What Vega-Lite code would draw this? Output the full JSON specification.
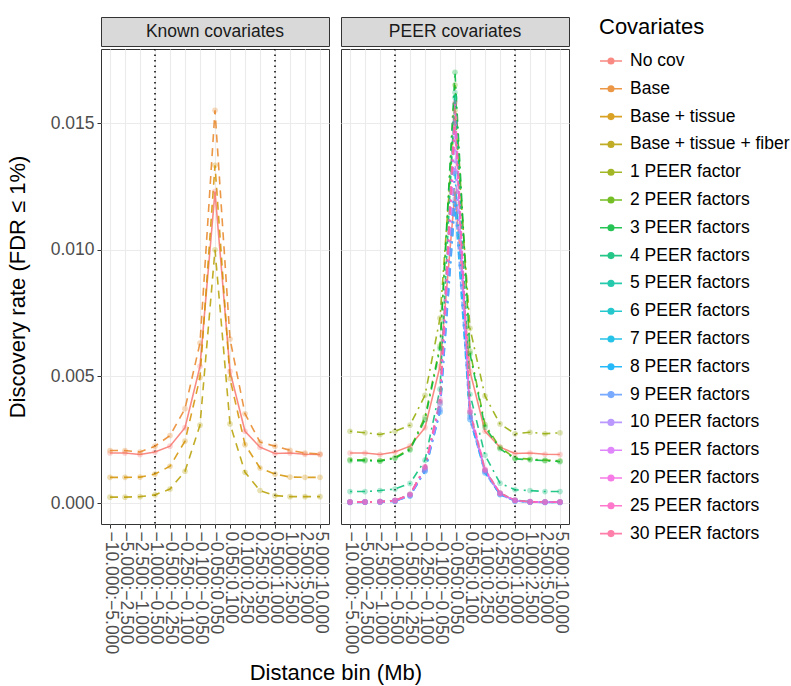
{
  "$schema": "https://vega.github.io/schema/vega-lite/v6.json",
  "padding": {"left": 5, "top": 16, "right": 0, "bottom": 2},
  "title": {"text": "Distance bin (Mb)", "orient": "bottom", "anchor": "middle", "fontSize": 22, "fontWeight": "normal", "color": "#000000", "offset": 9, "dx": -62},
  "datasets": {
    "rates": [
      {"cov":"No cov","bin":"-10.000:-5.000","rate":0.00198},{"cov":"No cov","bin":"-5.000:-2.500","rate":0.00198},{"cov":"No cov","bin":"-2.500:-1.000","rate":0.00192},{"cov":"No cov","bin":"-1.000:-0.500","rate":0.00202},{"cov":"No cov","bin":"-0.500:-0.250","rate":0.00225},{"cov":"No cov","bin":"-0.250:-0.100","rate":0.00298},{"cov":"No cov","bin":"-0.100:-0.050","rate":0.0054},{"cov":"No cov","bin":"-0.050:0.050","rate":0.0123},{"cov":"No cov","bin":"0.050:0.100","rate":0.0052},{"cov":"No cov","bin":"0.100:0.250","rate":0.00284},{"cov":"No cov","bin":"0.250:0.500","rate":0.00221},{"cov":"No cov","bin":"0.500:1.000","rate":0.00196},{"cov":"No cov","bin":"1.000:2.500","rate":0.00198},{"cov":"No cov","bin":"2.500:5.000","rate":0.00193},{"cov":"No cov","bin":"5.000:10.000","rate":0.00192},
      {"cov":"Base","bin":"-10.000:-5.000","rate":0.00208},{"cov":"Base","bin":"-5.000:-2.500","rate":0.00208},{"cov":"Base","bin":"-2.500:-1.000","rate":0.00202},{"cov":"Base","bin":"-1.000:-0.500","rate":0.00225},{"cov":"Base","bin":"-0.500:-0.250","rate":0.00267},{"cov":"Base","bin":"-0.250:-0.100","rate":0.00373},{"cov":"Base","bin":"-0.100:-0.050","rate":0.00632},{"cov":"Base","bin":"-0.050:0.050","rate":0.0155},{"cov":"Base","bin":"0.050:0.100","rate":0.00648},{"cov":"Base","bin":"0.100:0.250","rate":0.00353},{"cov":"Base","bin":"0.250:0.500","rate":0.00241},{"cov":"Base","bin":"0.500:1.000","rate":0.00225},{"cov":"Base","bin":"1.000:2.500","rate":0.00209},{"cov":"Base","bin":"2.500:5.000","rate":0.00198},{"cov":"Base","bin":"5.000:10.000","rate":0.00194},
      {"cov":"Base + tissue","bin":"-10.000:-5.000","rate":0.00102},{"cov":"Base + tissue","bin":"-5.000:-2.500","rate":0.00102},{"cov":"Base + tissue","bin":"-2.500:-1.000","rate":0.00103},{"cov":"Base + tissue","bin":"-1.000:-0.500","rate":0.00115},{"cov":"Base + tissue","bin":"-0.500:-0.250","rate":0.00146},{"cov":"Base + tissue","bin":"-0.250:-0.100","rate":0.00245},{"cov":"Base + tissue","bin":"-0.100:-0.050","rate":0.00496},{"cov":"Base + tissue","bin":"-0.050:0.050","rate":0.01333},{"cov":"Base + tissue","bin":"0.050:0.100","rate":0.00492},{"cov":"Base + tissue","bin":"0.100:0.250","rate":0.00231},{"cov":"Base + tissue","bin":"0.250:0.500","rate":0.00139},{"cov":"Base + tissue","bin":"0.500:1.000","rate":0.00115},{"cov":"Base + tissue","bin":"1.000:2.500","rate":0.00103},{"cov":"Base + tissue","bin":"2.500:5.000","rate":0.00102},{"cov":"Base + tissue","bin":"5.000:10.000","rate":0.00102},
      {"cov":"Base + tissue + fiber","bin":"-10.000:-5.000","rate":0.00024},{"cov":"Base + tissue + fiber","bin":"-5.000:-2.500","rate":0.00024},{"cov":"Base + tissue + fiber","bin":"-2.500:-1.000","rate":0.00026},{"cov":"Base + tissue + fiber","bin":"-1.000:-0.500","rate":0.00033},{"cov":"Base + tissue + fiber","bin":"-0.500:-0.250","rate":0.00056},{"cov":"Base + tissue + fiber","bin":"-0.250:-0.100","rate":0.00126},{"cov":"Base + tissue + fiber","bin":"-0.100:-0.050","rate":0.00308},{"cov":"Base + tissue + fiber","bin":"-0.050:0.050","rate":0.0100},{"cov":"Base + tissue + fiber","bin":"0.050:0.100","rate":0.00313},{"cov":"Base + tissue + fiber","bin":"0.100:0.250","rate":0.00122},{"cov":"Base + tissue + fiber","bin":"0.250:0.500","rate":0.0005},{"cov":"Base + tissue + fiber","bin":"0.500:1.000","rate":0.0003},{"cov":"Base + tissue + fiber","bin":"1.000:2.500","rate":0.00026},{"cov":"Base + tissue + fiber","bin":"2.500:5.000","rate":0.00026},{"cov":"Base + tissue + fiber","bin":"5.000:10.000","rate":0.00026},
      {"cov":"1 PEER factor","bin":"-10.000:-5.000","rate":0.00284},{"cov":"1 PEER factor","bin":"-5.000:-2.500","rate":0.00278},{"cov":"1 PEER factor","bin":"-2.500:-1.000","rate":0.00271},{"cov":"1 PEER factor","bin":"-1.000:-0.500","rate":0.00284},{"cov":"1 PEER factor","bin":"-0.500:-0.250","rate":0.00308},{"cov":"1 PEER factor","bin":"-0.250:-0.100","rate":0.00426},{"cov":"1 PEER factor","bin":"-0.100:-0.050","rate":0.0073},{"cov":"1 PEER factor","bin":"-0.050:0.050","rate":0.0155},{"cov":"1 PEER factor","bin":"0.050:0.100","rate":0.0069},{"cov":"1 PEER factor","bin":"0.100:0.250","rate":0.00423},{"cov":"1 PEER factor","bin":"0.250:0.500","rate":0.00313},{"cov":"1 PEER factor","bin":"0.500:1.000","rate":0.00274},{"cov":"1 PEER factor","bin":"1.000:2.500","rate":0.0028},{"cov":"1 PEER factor","bin":"2.500:5.000","rate":0.00274},{"cov":"1 PEER factor","bin":"5.000:10.000","rate":0.00278},
      {"cov":"2 PEER factors","bin":"-10.000:-5.000","rate":0.00172},{"cov":"2 PEER factors","bin":"-5.000:-2.500","rate":0.00171},{"cov":"2 PEER factors","bin":"-2.500:-1.000","rate":0.00168},{"cov":"2 PEER factors","bin":"-1.000:-0.500","rate":0.0018},{"cov":"2 PEER factors","bin":"-0.500:-0.250","rate":0.00214},{"cov":"2 PEER factors","bin":"-0.250:-0.100","rate":0.0034},{"cov":"2 PEER factors","bin":"-0.100:-0.050","rate":0.0062},{"cov":"2 PEER factors","bin":"-0.050:0.050","rate":0.0165},{"cov":"2 PEER factors","bin":"0.050:0.100","rate":0.006},{"cov":"2 PEER factors","bin":"0.100:0.250","rate":0.0031},{"cov":"2 PEER factors","bin":"0.250:0.500","rate":0.0022},{"cov":"2 PEER factors","bin":"0.500:1.000","rate":0.00178},{"cov":"2 PEER factors","bin":"1.000:2.500","rate":0.00174},{"cov":"2 PEER factors","bin":"2.500:5.000","rate":0.0017},{"cov":"2 PEER factors","bin":"5.000:10.000","rate":0.00167},
      {"cov":"3 PEER factors","bin":"-10.000:-5.000","rate":0.00168},{"cov":"3 PEER factors","bin":"-5.000:-2.500","rate":0.00168},{"cov":"3 PEER factors","bin":"-2.500:-1.000","rate":0.00166},{"cov":"3 PEER factors","bin":"-1.000:-0.500","rate":0.00177},{"cov":"3 PEER factors","bin":"-0.500:-0.250","rate":0.0021},{"cov":"3 PEER factors","bin":"-0.250:-0.100","rate":0.0033},{"cov":"3 PEER factors","bin":"-0.100:-0.050","rate":0.0061},{"cov":"3 PEER factors","bin":"-0.050:0.050","rate":0.017},{"cov":"3 PEER factors","bin":"0.050:0.100","rate":0.0059},{"cov":"3 PEER factors","bin":"0.100:0.250","rate":0.003},{"cov":"3 PEER factors","bin":"0.250:0.500","rate":0.00215},{"cov":"3 PEER factors","bin":"0.500:1.000","rate":0.00175},{"cov":"3 PEER factors","bin":"1.000:2.500","rate":0.00171},{"cov":"3 PEER factors","bin":"2.500:5.000","rate":0.00168},{"cov":"3 PEER factors","bin":"5.000:10.000","rate":0.00164},
      {"cov":"4 PEER factors","bin":"-10.000:-5.000","rate":0.00046},{"cov":"4 PEER factors","bin":"-5.000:-2.500","rate":0.00046},{"cov":"4 PEER factors","bin":"-2.500:-1.000","rate":0.0005},{"cov":"4 PEER factors","bin":"-1.000:-0.500","rate":0.00056},{"cov":"4 PEER factors","bin":"-0.500:-0.250","rate":0.00078},{"cov":"4 PEER factors","bin":"-0.250:-0.100","rate":0.0017},{"cov":"4 PEER factors","bin":"-0.100:-0.050","rate":0.0045},{"cov":"4 PEER factors","bin":"-0.050:0.050","rate":0.0162},{"cov":"4 PEER factors","bin":"0.050:0.100","rate":0.0043},{"cov":"4 PEER factors","bin":"0.100:0.250","rate":0.0019},{"cov":"4 PEER factors","bin":"0.250:0.500","rate":0.00079},{"cov":"4 PEER factors","bin":"0.500:1.000","rate":0.00053},{"cov":"4 PEER factors","bin":"1.000:2.500","rate":0.0005},{"cov":"4 PEER factors","bin":"2.500:5.000","rate":0.00046},{"cov":"4 PEER factors","bin":"5.000:10.000","rate":0.00046},
      {"cov":"5 PEER factors","bin":"-10.000:-5.000","rate":0.00005},{"cov":"5 PEER factors","bin":"-5.000:-2.500","rate":0.00005},{"cov":"5 PEER factors","bin":"-2.500:-1.000","rate":0.00006},{"cov":"5 PEER factors","bin":"-1.000:-0.500","rate":0.0001},{"cov":"5 PEER factors","bin":"-0.500:-0.250","rate":0.00035},{"cov":"5 PEER factors","bin":"-0.250:-0.100","rate":0.0014},{"cov":"5 PEER factors","bin":"-0.100:-0.050","rate":0.004},{"cov":"5 PEER factors","bin":"-0.050:0.050","rate":0.016},{"cov":"5 PEER factors","bin":"0.050:0.100","rate":0.0036},{"cov":"5 PEER factors","bin":"0.100:0.250","rate":0.0013},{"cov":"5 PEER factors","bin":"0.250:0.500","rate":0.0004},{"cov":"5 PEER factors","bin":"0.500:1.000","rate":0.00012},{"cov":"5 PEER factors","bin":"1.000:2.500","rate":0.00006},{"cov":"5 PEER factors","bin":"2.500:5.000","rate":0.00005},{"cov":"5 PEER factors","bin":"5.000:10.000","rate":0.00005},
      {"cov":"6 PEER factors","bin":"-10.000:-5.000","rate":0.00004},{"cov":"6 PEER factors","bin":"-5.000:-2.500","rate":0.00005},{"cov":"6 PEER factors","bin":"-2.500:-1.000","rate":0.00006},{"cov":"6 PEER factors","bin":"-1.000:-0.500","rate":0.0001},{"cov":"6 PEER factors","bin":"-0.500:-0.250","rate":0.00033},{"cov":"6 PEER factors","bin":"-0.250:-0.100","rate":0.00135},{"cov":"6 PEER factors","bin":"-0.100:-0.050","rate":0.0039},{"cov":"6 PEER factors","bin":"-0.050:0.050","rate":0.015},{"cov":"6 PEER factors","bin":"0.050:0.100","rate":0.0035},{"cov":"6 PEER factors","bin":"0.100:0.250","rate":0.00128},{"cov":"6 PEER factors","bin":"0.250:0.500","rate":0.00038},{"cov":"6 PEER factors","bin":"0.500:1.000","rate":0.0001},{"cov":"6 PEER factors","bin":"1.000:2.500","rate":0.00005},{"cov":"6 PEER factors","bin":"2.500:5.000","rate":0.00004},{"cov":"6 PEER factors","bin":"5.000:10.000","rate":0.00004},
      {"cov":"7 PEER factors","bin":"-10.000:-5.000","rate":0.00004},{"cov":"7 PEER factors","bin":"-5.000:-2.500","rate":0.00004},{"cov":"7 PEER factors","bin":"-2.500:-1.000","rate":0.00005},{"cov":"7 PEER factors","bin":"-1.000:-0.500","rate":0.00009},{"cov":"7 PEER factors","bin":"-0.500:-0.250","rate":0.0003},{"cov":"7 PEER factors","bin":"-0.250:-0.100","rate":0.0013},{"cov":"7 PEER factors","bin":"-0.100:-0.050","rate":0.0037},{"cov":"7 PEER factors","bin":"-0.050:0.050","rate":0.013},{"cov":"7 PEER factors","bin":"0.050:0.100","rate":0.0034},{"cov":"7 PEER factors","bin":"0.100:0.250","rate":0.00125},{"cov":"7 PEER factors","bin":"0.250:0.500","rate":0.00036},{"cov":"7 PEER factors","bin":"0.500:1.000","rate":0.0001},{"cov":"7 PEER factors","bin":"1.000:2.500","rate":0.00005},{"cov":"7 PEER factors","bin":"2.500:5.000","rate":0.00004},{"cov":"7 PEER factors","bin":"5.000:10.000","rate":0.00004},
      {"cov":"8 PEER factors","bin":"-10.000:-5.000","rate":0.00003},{"cov":"8 PEER factors","bin":"-5.000:-2.500","rate":0.00004},{"cov":"8 PEER factors","bin":"-2.500:-1.000","rate":0.00005},{"cov":"8 PEER factors","bin":"-1.000:-0.500","rate":0.00008},{"cov":"8 PEER factors","bin":"-0.500:-0.250","rate":0.00028},{"cov":"8 PEER factors","bin":"-0.250:-0.100","rate":0.00125},{"cov":"8 PEER factors","bin":"-0.100:-0.050","rate":0.0036},{"cov":"8 PEER factors","bin":"-0.050:0.050","rate":0.0118},{"cov":"8 PEER factors","bin":"0.050:0.100","rate":0.0033},{"cov":"8 PEER factors","bin":"0.100:0.250","rate":0.0012},{"cov":"8 PEER factors","bin":"0.250:0.500","rate":0.00034},{"cov":"8 PEER factors","bin":"0.500:1.000","rate":0.00009},{"cov":"8 PEER factors","bin":"1.000:2.500","rate":0.00004},{"cov":"8 PEER factors","bin":"2.500:5.000","rate":0.00003},{"cov":"8 PEER factors","bin":"5.000:10.000","rate":0.00003},
      {"cov":"9 PEER factors","bin":"-10.000:-5.000","rate":0.00003},{"cov":"9 PEER factors","bin":"-5.000:-2.500","rate":0.00004},{"cov":"9 PEER factors","bin":"-2.500:-1.000","rate":0.00005},{"cov":"9 PEER factors","bin":"-1.000:-0.500","rate":0.00008},{"cov":"9 PEER factors","bin":"-0.500:-0.250","rate":0.00029},{"cov":"9 PEER factors","bin":"-0.250:-0.100","rate":0.00127},{"cov":"9 PEER factors","bin":"-0.100:-0.050","rate":0.0036},{"cov":"9 PEER factors","bin":"-0.050:0.050","rate":0.012},{"cov":"9 PEER factors","bin":"0.050:0.100","rate":0.0033},{"cov":"9 PEER factors","bin":"0.100:0.250","rate":0.0012},{"cov":"9 PEER factors","bin":"0.250:0.500","rate":0.00034},{"cov":"9 PEER factors","bin":"0.500:1.000","rate":0.00009},{"cov":"9 PEER factors","bin":"1.000:2.500","rate":0.00004},{"cov":"9 PEER factors","bin":"2.500:5.000","rate":0.00003},{"cov":"9 PEER factors","bin":"5.000:10.000","rate":0.00003},
      {"cov":"10 PEER factors","bin":"-10.000:-5.000","rate":0.00004},{"cov":"10 PEER factors","bin":"-5.000:-2.500","rate":0.00004},{"cov":"10 PEER factors","bin":"-2.500:-1.000","rate":0.00005},{"cov":"10 PEER factors","bin":"-1.000:-0.500","rate":0.00009},{"cov":"10 PEER factors","bin":"-0.500:-0.250","rate":0.0003},{"cov":"10 PEER factors","bin":"-0.250:-0.100","rate":0.0013},{"cov":"10 PEER factors","bin":"-0.100:-0.050","rate":0.0037},{"cov":"10 PEER factors","bin":"-0.050:0.050","rate":0.0135},{"cov":"10 PEER factors","bin":"0.050:0.100","rate":0.0034},{"cov":"10 PEER factors","bin":"0.100:0.250","rate":0.00125},{"cov":"10 PEER factors","bin":"0.250:0.500","rate":0.00036},{"cov":"10 PEER factors","bin":"0.500:1.000","rate":0.0001},{"cov":"10 PEER factors","bin":"1.000:2.500","rate":0.00005},{"cov":"10 PEER factors","bin":"2.500:5.000","rate":0.00004},{"cov":"10 PEER factors","bin":"5.000:10.000","rate":0.00004},
      {"cov":"15 PEER factors","bin":"-10.000:-5.000","rate":0.00004},{"cov":"15 PEER factors","bin":"-5.000:-2.500","rate":0.00005},{"cov":"15 PEER factors","bin":"-2.500:-1.000","rate":0.00006},{"cov":"15 PEER factors","bin":"-1.000:-0.500","rate":0.0001},{"cov":"15 PEER factors","bin":"-0.500:-0.250","rate":0.00033},{"cov":"15 PEER factors","bin":"-0.250:-0.100","rate":0.00138},{"cov":"15 PEER factors","bin":"-0.100:-0.050","rate":0.0039},{"cov":"15 PEER factors","bin":"-0.050:0.050","rate":0.0145},{"cov":"15 PEER factors","bin":"0.050:0.100","rate":0.0036},{"cov":"15 PEER factors","bin":"0.100:0.250","rate":0.0013},{"cov":"15 PEER factors","bin":"0.250:0.500","rate":0.00038},{"cov":"15 PEER factors","bin":"0.500:1.000","rate":0.0001},{"cov":"15 PEER factors","bin":"1.000:2.500","rate":0.00005},{"cov":"15 PEER factors","bin":"2.500:5.000","rate":0.00004},{"cov":"15 PEER factors","bin":"5.000:10.000","rate":0.00004},
      {"cov":"20 PEER factors","bin":"-10.000:-5.000","rate":0.00004},{"cov":"20 PEER factors","bin":"-5.000:-2.500","rate":0.00005},{"cov":"20 PEER factors","bin":"-2.500:-1.000","rate":0.00006},{"cov":"20 PEER factors","bin":"-1.000:-0.500","rate":0.0001},{"cov":"20 PEER factors","bin":"-0.500:-0.250","rate":0.00034},{"cov":"20 PEER factors","bin":"-0.250:-0.100","rate":0.0014},{"cov":"20 PEER factors","bin":"-0.100:-0.050","rate":0.004},{"cov":"20 PEER factors","bin":"-0.050:0.050","rate":0.015},{"cov":"20 PEER factors","bin":"0.050:0.100","rate":0.0036},{"cov":"20 PEER factors","bin":"0.100:0.250","rate":0.0013},{"cov":"20 PEER factors","bin":"0.250:0.500","rate":0.00039},{"cov":"20 PEER factors","bin":"0.500:1.000","rate":0.00011},{"cov":"20 PEER factors","bin":"1.000:2.500","rate":0.00005},{"cov":"20 PEER factors","bin":"2.500:5.000","rate":0.00004},{"cov":"20 PEER factors","bin":"5.000:10.000","rate":0.00004},
      {"cov":"25 PEER factors","bin":"-10.000:-5.000","rate":0.00005},{"cov":"25 PEER factors","bin":"-5.000:-2.500","rate":0.00005},{"cov":"25 PEER factors","bin":"-2.500:-1.000","rate":0.00006},{"cov":"25 PEER factors","bin":"-1.000:-0.500","rate":0.00011},{"cov":"25 PEER factors","bin":"-0.500:-0.250","rate":0.00035},{"cov":"25 PEER factors","bin":"-0.250:-0.100","rate":0.00145},{"cov":"25 PEER factors","bin":"-0.100:-0.050","rate":0.0041},{"cov":"25 PEER factors","bin":"-0.050:0.050","rate":0.0158},{"cov":"25 PEER factors","bin":"0.050:0.100","rate":0.0037},{"cov":"25 PEER factors","bin":"0.100:0.250","rate":0.00135},{"cov":"25 PEER factors","bin":"0.250:0.500","rate":0.0004},{"cov":"25 PEER factors","bin":"0.500:1.000","rate":0.00012},{"cov":"25 PEER factors","bin":"1.000:2.500","rate":0.00006},{"cov":"25 PEER factors","bin":"2.500:5.000","rate":0.00005},{"cov":"25 PEER factors","bin":"5.000:10.000","rate":0.00005},
      {"cov":"30 PEER factors","bin":"-10.000:-5.000","rate":0.00005},{"cov":"30 PEER factors","bin":"-5.000:-2.500","rate":0.00005},{"cov":"30 PEER factors","bin":"-2.500:-1.000","rate":0.00006},{"cov":"30 PEER factors","bin":"-1.000:-0.500","rate":0.00011},{"cov":"30 PEER factors","bin":"-0.500:-0.250","rate":0.00035},{"cov":"30 PEER factors","bin":"-0.250:-0.100","rate":0.00142},{"cov":"30 PEER factors","bin":"-0.100:-0.050","rate":0.004},{"cov":"30 PEER factors","bin":"-0.050:0.050","rate":0.0152},{"cov":"30 PEER factors","bin":"0.050:0.100","rate":0.0036},{"cov":"30 PEER factors","bin":"0.100:0.250","rate":0.00132},{"cov":"30 PEER factors","bin":"0.250:0.500","rate":0.0004},{"cov":"30 PEER factors","bin":"0.500:1.000","rate":0.00012},{"cov":"30 PEER factors","bin":"1.000:2.500","rate":0.00006},{"cov":"30 PEER factors","bin":"2.500:5.000","rate":0.00005},{"cov":"30 PEER factors","bin":"5.000:10.000","rate":0.00005}
    ],
    "cutoffs": [{"bin":"-1.000:-0.500"},{"bin":"0.500:1.000"}]
  },
  "hconcat": [
    {
      "vconcat": [
        {
          "width": 228, "height": 29,
          "view": {"fill": "#d9d9d9", "stroke": "#333333"},
          "data": {"values": [{"panel": "Known covariates"}]},
          "mark": {"type": "text", "fontSize": 17.5, "color": "#1a1a1a"},
          "encoding": {"text": {"field": "panel"}}
        },
        {
          "width": 228, "height": 475,
          "resolve": {"axis": {"y": "independent"}},
          "layer": [
            {
              "data": {"name": "cutoffs"},
              "mark": {"type": "rule", "strokeDash": [1.5, 4], "strokeWidth": 1.5, "color": "#000000"},
              "encoding": {"x": {"field": "bin", "type": "ordinal", "title": null, "scale": {"type": "point", "padding": 0.6, "domain": ["-10.000:-5.000","-5.000:-2.500","-2.500:-1.000","-1.000:-0.500","-0.500:-0.250","-0.250:-0.100","-0.100:-0.050","-0.050:0.050","0.050:0.100","0.100:0.250","0.250:0.500","0.500:1.000","1.000:2.500","2.500:5.000","5.000:10.000"]}}}
            },
            {
              "data": {"name": "rates"},
              "transform": [{"filter": "datum.cov == 'No cov'"}],
              "mark": {"type": "line", "strokeWidth": 1.6, "opacity": 0.85},
              "encoding": {
                "x": {"field": "bin", "type": "ordinal", "title": null},
                "y": {"field": "rate", "type": "quantitative", "title": "Discovery rate (FDR ≤ 1%)", "scale": {"domain": [-0.00082, 0.01792], "nice": false, "zero": false},
                  "axis": {"values": [0, 0.005, 0.01, 0.015], "format": ".3f", "labelOverlap": false, "tickColor": "#333333"}},
                "color": {"field": "cov", "type": "nominal", "title": "Covariates", "scale": {"domain": ["No cov","Base","Base + tissue","Base + tissue + fiber","1 PEER factor","2 PEER factors","3 PEER factors","4 PEER factors","5 PEER factors","6 PEER factors","7 PEER factors","8 PEER factors","9 PEER factors","10 PEER factors","15 PEER factors","20 PEER factors","25 PEER factors","30 PEER factors"], "range": ["#F8766D", "#E88526", "#D39200", "#B79F00", "#93AA00", "#5EB300", "#00BA38", "#00BE74", "#00C19F", "#00BFC4", "#00B9E3", "#00ADFA", "#619CFF", "#AE87FF", "#DB72FB", "#F564E3", "#FF61C3", "#FF699C"]}}
              }
            },
            {
              "data": {"name": "rates"},
              "transform": [{"filter": "datum.cov != 'No cov' && indexof(datum.cov, 'PEER') < 0"}],
              "mark": {"type": "line", "strokeWidth": 1.6, "opacity": 0.85, "strokeDash": [8, 6]},
              "encoding": {
                "x": {"field": "bin", "type": "ordinal"},
                "y": {"field": "rate", "type": "quantitative", "axis": null},
                "color": {"field": "cov", "type": "nominal"}
              }
            },
            {
              "data": {"name": "rates"},
              "transform": [{"filter": "indexof(datum.cov, 'PEER') < 0"}],
              "mark": {"type": "point", "filled": true, "size": 32, "opacity": 0.3},
              "encoding": {
                "x": {"field": "bin", "type": "ordinal"},
                "y": {"field": "rate", "type": "quantitative", "axis": {"orient": "right", "values": [0.0025, 0.0075, 0.0125, 0.0175], "labels": false, "ticks": false, "domain": false, "title": null, "gridWidth": 0.6}},
                "color": {"field": "cov", "type": "nominal"}
              }
            }
          ]
        }
      ]
    },
    {
      "vconcat": [
        {
          "width": 228, "height": 29,
          "view": {"fill": "#d9d9d9", "stroke": "#333333"},
          "data": {"values": [{"panel": "PEER covariates"}]},
          "mark": {"type": "text", "fontSize": 17.5, "color": "#1a1a1a"},
          "encoding": {"text": {"field": "panel"}}
        },
        {
          "width": 228, "height": 475,
          "resolve": {"axis": {"y": "independent"}},
          "layer": [
            {
              "data": {"name": "cutoffs"},
              "mark": {"type": "rule", "strokeDash": [1.5, 4], "strokeWidth": 1.5, "color": "#000000"},
              "encoding": {"x": {"field": "bin", "type": "ordinal", "title": null, "scale": {"type": "point", "padding": 0.6, "domain": ["-10.000:-5.000","-5.000:-2.500","-2.500:-1.000","-1.000:-0.500","-0.500:-0.250","-0.250:-0.100","-0.100:-0.050","-0.050:0.050","0.050:0.100","0.100:0.250","0.250:0.500","0.500:1.000","1.000:2.500","2.500:5.000","5.000:10.000"]}}}
            },
            {
              "data": {"name": "rates"},
              "transform": [{"filter": "datum.cov == 'No cov'"}],
              "mark": {"type": "line", "strokeWidth": 1.6, "opacity": 0.85},
              "encoding": {
                "x": {"field": "bin", "type": "ordinal", "title": null},
                "y": {"field": "rate", "type": "quantitative", "scale": {"domain": [-0.00082, 0.01792], "nice": false, "zero": false}, "axis": {"values": [0, 0.005, 0.01, 0.015], "labels": false, "ticks": false, "title": null}},
                "color": {"field": "cov", "type": "nominal", "title": "Covariates"}
              }
            },
            {
              "data": {"name": "rates"},
              "transform": [{"filter": "indexof(datum.cov, 'PEER') >= 0"}],
              "mark": {"type": "line", "strokeWidth": 1.6, "opacity": 0.85, "strokeDash": [2, 5, 8, 5]},
              "encoding": {
                "x": {"field": "bin", "type": "ordinal"},
                "y": {"field": "rate", "type": "quantitative", "axis": null},
                "color": {"field": "cov", "type": "nominal"}
              }
            },
            {
              "data": {"name": "rates"},
              "transform": [{"filter": "datum.cov == 'No cov' || indexof(datum.cov, 'PEER') >= 0"}],
              "mark": {"type": "point", "filled": true, "size": 32, "opacity": 0.3},
              "encoding": {
                "x": {"field": "bin", "type": "ordinal"},
                "y": {"field": "rate", "type": "quantitative", "axis": {"orient": "right", "values": [0.0025, 0.0075, 0.0125, 0.0175], "labels": false, "ticks": false, "domain": false, "title": null, "gridWidth": 0.6}},
                "color": {"field": "cov", "type": "nominal"}
              }
            }
          ]
        }
      ]
    }
  ],
  "spacing": 10,
  "resolve": {"scale": {"color": "shared"}},
  "config": {
    "font": "Liberation Sans",
    "view": {"stroke": "#333333", "strokeWidth": 1},
    "concat": {"spacing": 0},
    "axisX": {
      "labelAngle": 90, "labelFontSize": 17.5, "labelColor": "#4d4d4d", "labelPadding": 3,
      "labelExpr": "replace(datum.label, regexp('-', 'g'), '−')",
      "tickColor": "#333333", "tickSize": 4, "domain": false,
      "grid": true, "gridColor": "#ebebeb", "gridWidth": 1.1, "labelOverlap": false
    },
    "axisY": {
      "labelFontSize": 17.5, "labelColor": "#4d4d4d", "labelPadding": 3,
      "tickSize": 4, "tickColor": "#333333", "domain": false, "grid": true, "gridColor": "#ebebeb", "gridWidth": 1.1,
      "titleFontSize": 22, "titleFontWeight": "normal", "titleColor": "#000000", "titlePadding": 21
    },
    "legend": {
      "titleFontSize": 22, "titleFontWeight": "normal", "titleColor": "#000000", "titlePadding": 10,
      "labelFontSize": 17.5, "labelColor": "#000000", "offset": 29, "rowPadding": 6.8,
      "symbolType": "M-1,0H1M0.25,0A0.25,0.25,0,1,1,-0.25,0A0.25,0.25,0,1,1,0.25,0Z",
      "symbolSize": 484, "symbolStrokeWidth": 1.6, "symbolOpacity": 0.85, "labelOffset": 7
    }
  }
}
